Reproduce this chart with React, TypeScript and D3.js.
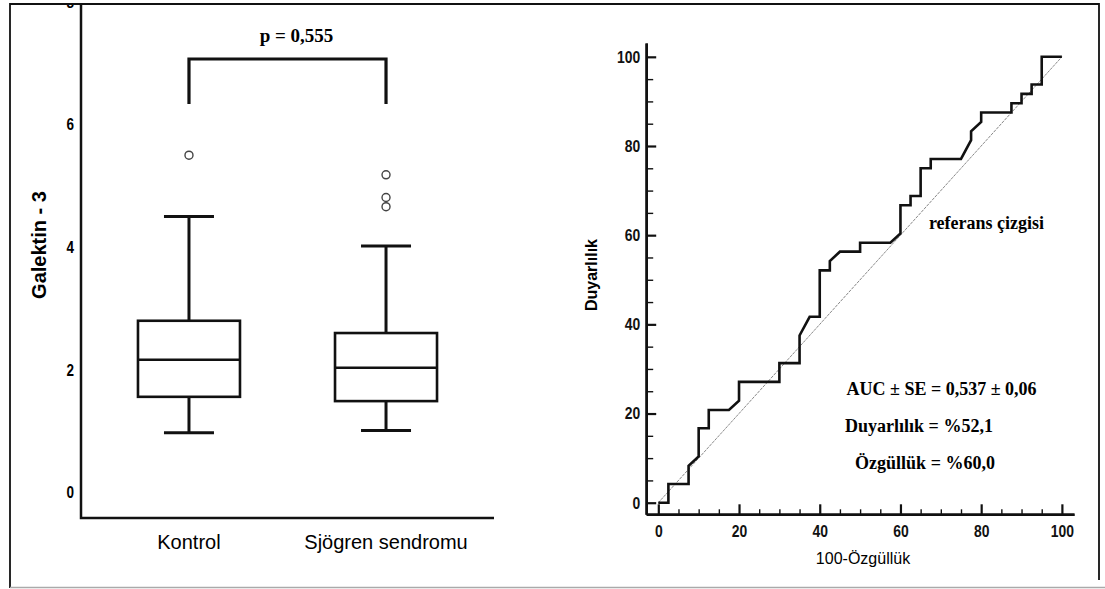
import { useEffect, useRef } from "react";
import * as d3 from "d3";

// box plot (Galektin - 3)
const groups = ["Kontrol", "Sjögren sendromu"];
const whiskerLow = [0.975, 1.01];
const q1 = [1.56, 1.49];
const median = [2.165, 2.035];
const q3 = [2.8, 2.6];
const whiskerHigh = [4.5, 4.02];
const outliers = [[5.5], [5.18, 4.81, 4.66]];
const boxTicks = [0, 2, 4, 6, 8];
const pText = "p = 0,555";

// ROC curve
const fpr = [0, 2.5, 2.5, 7.5, 7.5, 10, 10, 12.5, 12.5, 17.5, 20, 20, 30, 30, 35, 35, 37.5, 40, 40, 42.5, 42.5, 45, 50, 50, 57.5, 60, 60, 62.5, 62.5, 65, 65, 67.5, 67.5, 75, 77.5, 77.5, 80, 80, 87.5, 87.5, 90, 90, 92.5, 92.5, 95, 95, 100];
const tpr = [0, 0, 4.2, 4.2, 8.3, 10.4, 16.7, 16.7, 20.8, 20.8, 22.9, 27.1, 27.1, 31.3, 31.3, 37.5, 41.7, 41.7, 52.1, 52.1, 54.2, 56.3, 56.3, 58.3, 58.3, 60.4, 66.7, 66.7, 68.8, 68.8, 75, 75, 77.1, 77.1, 81.3, 83.3, 85.4, 87.5, 87.5, 89.6, 89.6, 91.7, 91.7, 93.8, 93.8, 100, 100];
const rocMajor = [0, 20, 40, 60, 80, 100];
const rocMinor = [5, 10, 15, 25, 30, 35, 45, 50, 55, 65, 70, 75, 85, 90, 95];
const statLines = ["AUC ± SE = 0,537 ± 0,06", "Duyarlılık = %52,1", "Özgüllük = %60,0"];

const SANS = "'Liberation Sans', Arial, sans-serif";
const SERIF = "'Liberation Serif', 'Times New Roman', serif";
const NARROW = 0.82; // no narrow face installed, squeeze the regular one

const App = () => {
  const ref = useRef<SVGSVGElement | null>(null);

  useEffect(() => {
    const svg = d3.select(ref.current);
    svg.selectAll("*").remove();

    // frame
    svg.append("path")
      .attr("d", "M10,588 L10,4 L1099,4 L1099,580")
      .attr("fill", "none").attr("stroke", "#111").attr("stroke-width", 1.8);
    svg.append("line")
      .attr("x1", 10).attr("x2", 1105).attr("y1", 587.5).attr("y2", 587.5)
      .attr("stroke", "#aaa").attr("stroke-width", 1.5);

    svg.append("clipPath").attr("id", "leftclip")
      .append("rect").attr("x", 0).attr("y", 5).attr("width", 560).attr("height", 584);

    // ---------- left: box plot ----------
    const left = svg.append("g").attr("clip-path", "url(#leftclip)");
    const x = d3.scalePoint().domain(groups).range([81, 494]).padding(0.548);
    const y = d3.scaleLinear().domain([-0.416, 7.965]).range([518, 4]);
    const boxW = 102;
    const capW = 50;

    left.append("path")
      .attr("d", `M81,0 L81,518 L494,518`)
      .attr("fill", "none").attr("stroke", "#111").attr("stroke-width", 2.5);

    left.selectAll(".ytick").data(boxTicks).enter().append("text")
      .attr("transform", (d) => `translate(70.3,${y(d)}) scale(${NARROW},1)`)
      .attr("dy", "0.36em")
      .attr("text-anchor", "middle")
      .style("font-family", SANS).style("font-weight", "bold").style("font-size", "16.5px")
      .text((d) => d);

    left.append("text")
      .attr("transform", `translate(46,245) rotate(-90)`)
      .attr("text-anchor", "middle")
      .style("font-family", SANS).style("font-weight", "bold").style("font-size", "20px")
      .text("Galektin - 3");

    groups.forEach((g, i) => {
      const cx = x(g) as number;
      const gg = left.append("g");
      gg.append("line").attr("x1", cx).attr("x2", cx)
        .attr("y1", y(whiskerHigh[i])).attr("y2", y(q3[i]))
        .attr("stroke", "#111").attr("stroke-width", 3);
      gg.append("line").attr("x1", cx).attr("x2", cx)
        .attr("y1", y(q1[i])).attr("y2", y(whiskerLow[i]))
        .attr("stroke", "#111").attr("stroke-width", 3);
      [whiskerHigh[i], whiskerLow[i]].forEach((v) => {
        gg.append("line").attr("x1", cx - capW / 2).attr("x2", cx + capW / 2)
          .attr("y1", y(v)).attr("y2", y(v))
          .attr("stroke", "#111").attr("stroke-width", 3);
      });
      gg.append("rect")
        .attr("x", cx - boxW / 2).attr("width", boxW)
        .attr("y", y(q3[i])).attr("height", y(q1[i]) - y(q3[i]))
        .attr("fill", "white").attr("stroke", "#111").attr("stroke-width", 2.6);
      gg.append("line").attr("x1", cx - boxW / 2).attr("x2", cx + boxW / 2)
        .attr("y1", y(median[i])).attr("y2", y(median[i]))
        .attr("stroke", "#111").attr("stroke-width", 2.6);
      gg.selectAll("circle").data(outliers[i]).enter().append("circle")
        .attr("cx", cx).attr("cy", (d) => y(d)).attr("r", 4)
        .attr("fill", "white").attr("stroke", "#444").attr("stroke-width", 1.4);
      left.append("text")
        .attr("x", cx).attr("y", 549).attr("text-anchor", "middle")
        .style("font-family", SANS).style("font-size", "20px")
        .text(g);
    });

    const bx0 = x(groups[0]) as number;
    const bx1 = x(groups[1]) as number;
    left.append("path")
      .attr("d", `M${bx0},104 L${bx0},59 L${bx1},59 L${bx1},104`)
      .attr("fill", "none").attr("stroke", "#111").attr("stroke-width", 3.2);
    left.append("text")
      .attr("x", (bx0 + bx1) / 2 + 9).attr("y", 42).attr("text-anchor", "middle")
      .style("font-family", SERIF).style("font-weight", "bold").style("font-size", "19px")
      .text(pText);

    // ---------- right: ROC ----------
    const rx = d3.scaleLinear().domain([-3, 103]).range([646.2, 1074]);
    const ry = d3.scaleLinear().domain([-2.6, 103.1]).range([514.3, 43]);
    const right = svg.append("g");

    right.append("line")
      .attr("x1", rx(0)).attr("y1", ry(0)).attr("x2", rx(100)).attr("y2", ry(100))
      .attr("stroke", "#888").attr("stroke-width", 1).attr("stroke-dasharray", "3,1");

    const line = d3.line<number>().x((d) => rx(d)).y((_, i) => ry(tpr[i]));
    right.append("path")
      .datum(fpr)
      .attr("d", line)
      .attr("fill", "none").attr("stroke", "#111").attr("stroke-width", 2.6)
      .attr("stroke-linejoin", "miter");

    const styleAxis = (g: any) => {
      g.select(".domain").attr("stroke", "#111").attr("stroke-width", 2.5);
      g.selectAll(".tick line").attr("stroke", "#111").attr("stroke-width", 2.2);
      g.selectAll("text")
        .style("font-family", SANS).style("font-weight", "bold").style("font-size", "17px")
        .attr("fill", "#111");
    };

    right.append("g").attr("transform", `translate(${rx(-3)},0)`)
      .call(d3.axisLeft(ry).tickValues(rocMinor).tickSize(-7).tickSizeOuter(0).tickFormat(() => ""))
      .call(styleAxis)
      .call((g: any) => g.selectAll(".tick line").attr("stroke-width", 1.4));
    right.append("g").attr("transform", `translate(${rx(-3)},0)`)
      .call(d3.axisLeft(ry).tickValues(rocMajor).tickSize(-10).tickSizeOuter(0).tickPadding(6))
      .call(styleAxis)
      .call((g: any) => g.selectAll(".tick text")
        .attr("x", -6 / NARROW).attr("transform", `scale(${NARROW},1)`));

    right.append("g").attr("transform", `translate(0,${ry(-2.6)})`)
      .call(d3.axisBottom(rx).tickValues(rocMinor).tickSize(-5).tickSizeOuter(0).tickFormat(() => ""))
      .call(styleAxis)
      .call((g: any) => g.selectAll(".tick line").attr("stroke-width", 1.4));
    right.append("g").attr("transform", `translate(0,${ry(-2.6)})`)
      .call(d3.axisBottom(rx).tickValues(rocMajor).tickSize(-10).tickSizeOuter(0).tickPadding(10.5))
      .call(styleAxis)
      .call((g: any) => g.selectAll(".tick text").attr("transform", `scale(${NARROW},1)`));

    right.append("text")
      .attr("x", 863).attr("y", 564).attr("text-anchor", "middle")
      .style("font-family", SANS).style("font-size", "16px")
      .text("100-Özgüllük");
    right.append("text")
      .attr("transform", `translate(597,275) rotate(-90)`)
      .attr("text-anchor", "middle")
      .style("font-family", SANS).style("font-weight", "bold").style("font-size", "16px")
      .text("Duyarlılık");

    right.append("text")
      .attr("x", 986.5).attr("y", 229).attr("text-anchor", "middle")
      .style("font-family", SERIF).style("font-weight", "bold").style("font-size", "18px")
      .text("referans çizgisi");

    const statX = [941.6, 919, 925];
    const statY = [395, 432, 469];
    right.selectAll(".stat").data(statLines).enter().append("text")
      .attr("x", (_, i) => statX[i]).attr("y", (_, i) => statY[i]).attr("text-anchor", "middle")
      .style("font-family", SERIF).style("font-weight", "bold").style("font-size", "18px")
      .text((d) => d);
  }, []);

  return (
    <div style={{ position: "absolute", left: 0, top: 0 }}>
      <svg ref={ref} width={1105} height={589} style={{ display: "block", background: "white" }} />
    </div>
  );
};

export default App;
